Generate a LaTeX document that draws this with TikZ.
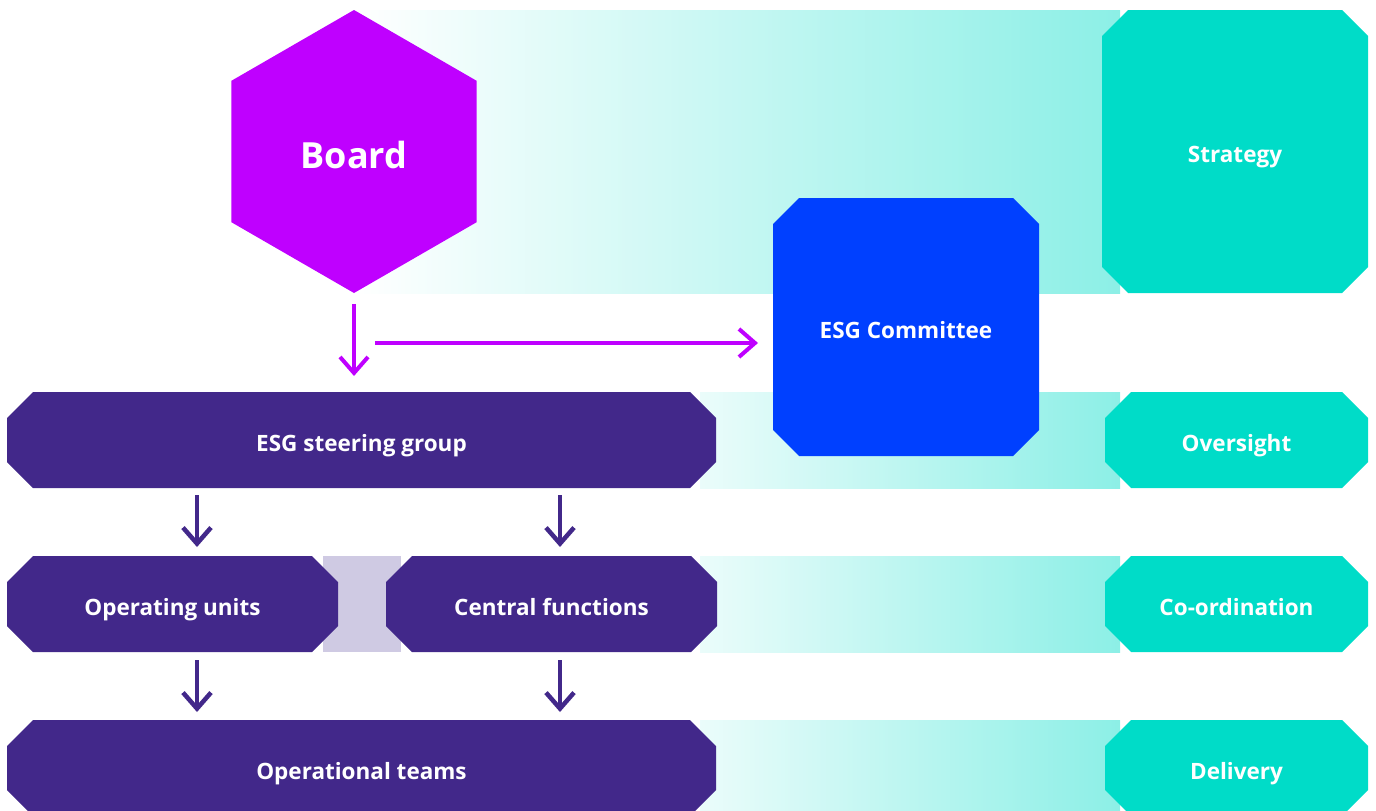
\documentclass[tikz,border=0pt]{standalone}
\usepackage{fontspec}
\setmainfont{Open Sans}
\usepackage{tikz}
\usetikzlibrary{arrows.meta,shapes.misc,shapes.geometric,positioning}
\definecolor{boardC}{HTML}{BF00FF}
\definecolor{committeeC}{HTML}{0040FF}
\definecolor{groupC}{HTML}{42288A}
\definecolor{levelC}{HTML}{00DCC8}
\definecolor{linkC}{HTML}{CFCAE3}
\colorlet{bandA}{levelC!8!white}
\colorlet{bandB}{levelC!45!white}

\tikzset{
  lbl/.style={text=white, font=\fontsize{22.5}{26}\selectfont\bfseries,
    text height=22pt, text depth=0pt},
  cutbox/.style={chamfered rectangle, chamfered rectangle xsep=15pt,
    chamfered rectangle ysep=15pt, inner sep=0pt, outer sep=0pt, lbl},
  unit/.style={cutbox, fill=groupC, minimum height=96pt},
  level/.style={cutbox, fill=levelC, minimum width=263pt, minimum height=96pt},
  band/.style={left color=bandA, right color=bandB},
  magarrow/.style={boardC, line width=4pt,
    -{Straight Barb[length=16pt, width=28pt]}},
  purarrow/.style={groupC, line width=4.5pt,
    -{Straight Barb[length=16pt, width=28pt]}},
}

\begin{document}
\begin{tikzpicture}[x=1pt, y=-1pt]
  \useasboundingbox (0,0) rectangle (1376,811);
  \clip (0,0) rectangle (1376,811);

  % gradient bands behind each level
  \shade[left color=white, right color=bandB] (354,10) rectangle (1120,293);
  \shade[band] (700,392) rectangle (1120,488);
  \shade[band] (700,556) rectangle (1120,652);
  \shade[band] (700,720) rectangle (1120,816);

  % level boxes on the right
  \node[level, minimum width=266pt, minimum height=283pt] (strategy) at (1235,151.5) {Strategy};
  \node[level] (oversight) at (1236.5,440) {Oversight};
  \node[level] (coord) at (1236.5,604) {Co-ordination};
  \node[level] (delivery) at (1236.5,768) {Delivery};

  % board and committee
  \node[regular polygon, regular polygon sides=6, regular polygon rotate=30,
    minimum size=283pt, inner sep=0pt, fill=boardC, lbl,
    font=\fontsize{36}{40}\selectfont\bfseries, text height=33pt, text depth=0pt]
    (board) at (354,151.5) {Board};
  \node[cutbox, fill=committeeC, minimum width=266pt, minimum height=258pt]
    (committee) at (906,327) {ESG Committee};

  % steering group and the units under it
  \node[unit, minimum width=709pt] (steer) at (361.5,440) {ESG steering group};
  \fill[linkC] (323,556) rectangle (401,652);
  \node[unit, minimum width=331pt] (units) at (172.5,604) {Operating units};
  \node[unit, minimum width=331pt] (central) at (551.5,604) {Central functions};
  \node[unit, minimum width=709pt] (teams) at (361.5,768) {Operational teams};

  % magenta arrows out of the board
  \coordinate (split) at (375,343);
  \draw[magarrow, shorten <=11pt, shorten >=16pt] (board.south) -- (board.south |- steer.north);
  \draw[magarrow, shorten >=15pt] (split) -- (committee.west |- split);

  % purple arrows down the columns
  \coordinate (colA) at (197,0);
  \coordinate (colB) at (560,0);
  \foreach \c in {colA,colB} {
    \draw[purarrow, shorten <=7pt, shorten >=9pt] (\c |- steer.south) -- (\c |- units.north);
    \draw[purarrow, shorten <=8pt, shorten >=8pt] (\c |- units.south) -- (\c |- teams.north);
  }
\end{tikzpicture}
\end{document}
